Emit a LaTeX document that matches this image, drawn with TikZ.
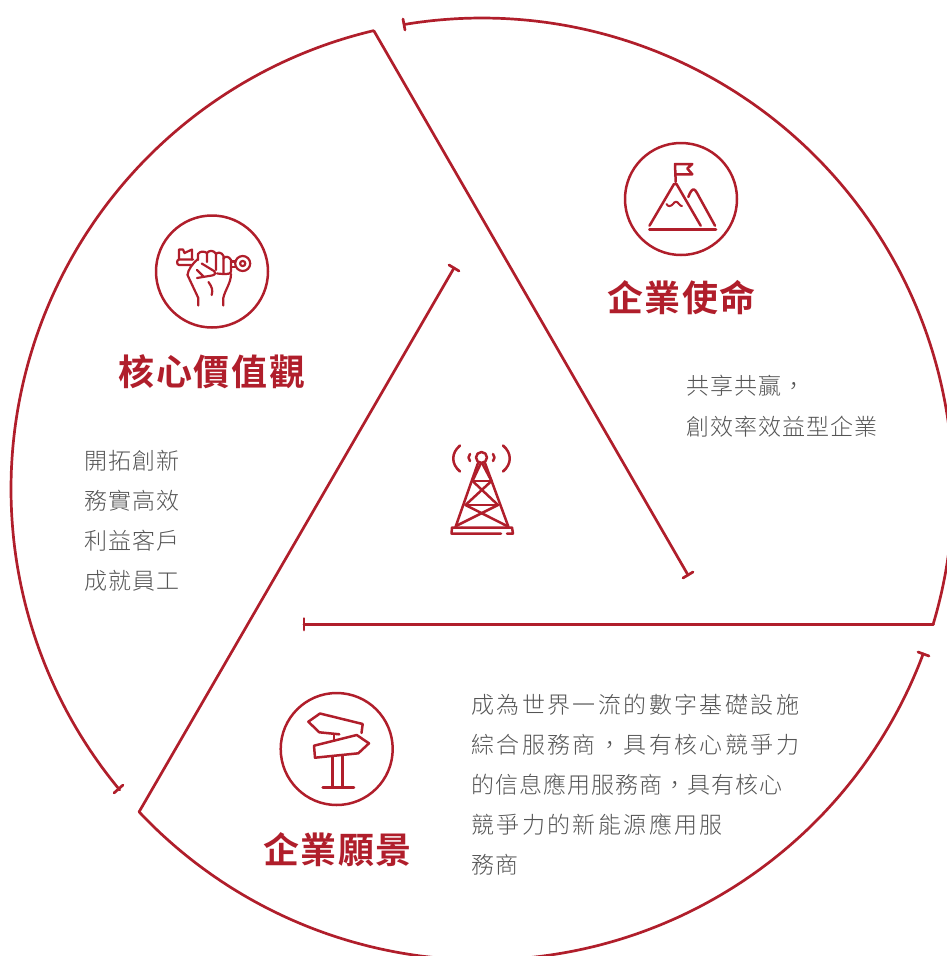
\documentclass[tikz,border=0pt]{standalone}
\usepackage{fontspec}
\newfontfamily\bodya[LetterSpace=4.5]{Noto Sans CJK TC Light}
\newfontfamily\bodyb[LetterSpace=10.5]{Noto Sans CJK TC Light}
\newfontfamily\titlef[LetterSpace=4.5]{Noto Sans CJK TC Bold}
\definecolor{brand}{HTML}{B01E2B}
\definecolor{bodygray}{HTML}{555555}
\tikzset{
  ring/.style={draw=brand,line width=2.7pt,line cap=round,line join=round},
  ico/.style={draw=brand,line width=2.5pt,line cap=round,line join=round},
  fine/.style={draw=brand,line width=2.2pt,line cap=round,line join=round},
  headline/.style={text=brand,inner sep=0pt,font=\fontsize{36}{36}\titlef},
  narrow/.style={text=bodygray,inner sep=0pt,anchor=base west,font=\fontsize{23}{23}\bodya},
  wide/.style={text=bodygray,inner sep=0pt,anchor=base west,font=\fontsize{23}{23}\bodyb},
  badge/.style={circle,draw=brand,line width=2.5pt,minimum size=112pt,inner sep=0pt}
}
\begin{document}
\begin{tikzpicture}[x=1pt,y=-1pt]
\useasboundingbox (0,0) rectangle (947,956);
\clip (0,0) rectangle (947,956);
\coordinate (c) at (482,489);
\newcommand{\ringarc}[3]{\draw[ring] plot[smooth,samples=160,domain=#1:#2,variable=\t] ({482+471*cos(\t)},{489-471*sin(\t)});}
% right sector
\ringarc{99.5}{-16.6}{}
\coordinate (r0) at (933.5,624.5);
\coordinate (r1) at (304,624.5);
\draw[ring] (r0) -- (r1);
\draw[ring] (304,618.5) -- (304,630);
\draw[ring] (403,19) -- (405,30);
% left sector
\ringarc{103.3}{219.7}{}
\coordinate (l0) at (374,31);
\coordinate (l1) at (688,575);
\draw[ring] (l0) -- (l1);
\draw[ring] (683,578) -- (693,572);
\draw[ring] (114,793) -- (123,785);
% bottom sector
\ringarc{223.3}{339.5}{}
\coordinate (b0) at (139,812);
\coordinate (b1) at (454,268);
\draw[ring] (b0) -- (b1);
\draw[ring] (449,265) -- (459,271);
\draw[ring] (918,652) -- (929,656);
% badges
\node[badge] (bm) at (681,199) {};
\node[badge] (bk) at (212,271.5) {};
\node[badge] (bv) at (336.7,749) {};
% mission icon
\draw[ico] (675.7,182) -- (675,164) -- (692.3,164) -- (687.3,168.5) -- (692.3,174.3) -- (675.5,174.3);
\draw[ico] (649.5,225.7) -- (674,184) -- (676.5,184) -- (700.7,225.7);
\draw[ico] (688.3,197) .. controls (690.5,191) and (692.5,189) .. (694,189.5) .. controls (695,190) and (696,191) .. (697,193) -- (715,225.7);
\draw[ico] (649.3,229.5) -- (716,229.5);
\draw[ico,line width=2pt] (666.5,204) .. controls (668,207) and (671,206.5) .. (673,204) .. controls (675,201) and (677,201) .. (679,204) .. controls (680,205.5) and (681,206) .. (682,206);
% key fist icon
\draw[fine] (179,259.5) -- (179,249.5) -- (183,249.5) -- (184.5,253) -- (192,249.5) -- (192,259.5);
\draw[fine] (193,259.5) -- (179,259.5) .. controls (176.5,259.5) and (176.5,265) .. (179,265) -- (192,265);
\draw[fine] (187.5,275) .. controls (188,270) and (192,264) .. (198,259);
\draw[fine] (187.5,275) -- (198.3,298) -- (198.3,305.5);
\draw[fine] (198,260) -- (198,254) .. controls (200,251) and (204,251) .. (207,253) -- (207,262);
\draw[fine] (207,253) .. controls (209,250) and (214,250) .. (216,254) -- (216,270);
\draw[fine] (216,254) .. controls (217,252) and (222,252) .. (223.5,256) -- (223.5,273);
\draw[fine] (223.5,258.5) .. controls (225,256) and (229,256) .. (231,260) -- (231,271) .. controls (231,274) and (228,274) .. (223,274) -- (217,273.5);
\draw[fine] (231,261.5) -- (235.5,261.5);
\draw[fine] (231,267) -- (235.5,267);
\draw[fine] (201.7,263.5) -- (214,271) .. controls (216,273) and (215,275) .. (212,275.5) -- (197,278);
\draw[fine] (197,270) -- (203.5,276.5);
\draw[fine] (231,274) .. controls (231,283) and (225,290) .. (223.3,298) -- (223.3,305.5);
\draw[fine] (208.5,282) .. controls (212,287) and (213,290) .. (211.7,295);
\draw[fine] (242.7,263.5) circle[radius=7.5];
\draw[fine] (242.7,263.5) circle[radius=2.6];
% tower icon
\draw[ico] (481.5,457.5) circle[radius=5.5];
\draw[ico] (478,463) -- (455.5,527);
\draw[ico] (485,463) -- (508.5,527);
\draw[ico] (472.5,481) -- (491.5,481);
\draw[ico] (465.5,505) -- (498,505);
\draw[ico] (481,463) -- (472.5,481) -- (498,505) -- (456,526);
\draw[ico] (482,463) -- (491.5,481) -- (465.5,505) -- (507,526);
\draw[ico] (462,527.5) -- (452,527.5) -- (451.5,533.5) -- (501,533.5);
\draw[ico] (462,527.5) -- (512,527.5) -- (513,533.5) -- (507,533.5);
\draw[ico] (460,445.5) .. controls (451,453) and (451,464) .. (460,471.5);
\draw[ico] (503,445.5) .. controls (512,453) and (512,464) .. (503,471.5);
\draw[ico] (470,454) .. controls (468,456) and (468,459) .. (470,461);
\draw[ico] (493,454) .. controls (495,456) and (495,459) .. (493,461);
% vision icon
\draw[ico] (361.5,733) -- (362.7,724) -- (320,713.5) -- (308.3,721.7) -- (319.3,732.3) -- (339.3,734.3);
\draw[ico] (334,735.5) -- (334,740);
\draw[ico] (314,745.7) -- (356.7,735) -- (369,743.3) -- (358.3,753.3) -- (315,757.7) -- cycle;
\draw[ico] (332.7,757) -- (332.7,787.3);
\draw[ico] (342.7,756) -- (342.7,787.3);
\draw[ico] (322.7,787.5) -- (354,787.5);
% titles
\node[headline] (tm) at (681.5,298) {企業使命};
\node[headline] (tk) at (212,372) {核心價值觀};
\node[headline] (tv) at (337.5,850) {企業願景};
% body
\node[narrow] (a1) at (686,394.5) {共享共贏，};
\node[narrow] (a2) at (686,435.5) {創效率效益型企業};
\node[narrow] (k1) at (84,469.5) {開拓創新};
\node[narrow] (k2) at (84,509.5) {務實高效};
\node[narrow] (k3) at (84,549.5) {利益客戶};
\node[narrow] (k4) at (84,589.5) {成就員工};
\node[wide] (v1) at (471,713.5) {成為世界一流的數字基礎設施};
\node[wide] (v2) at (471,753.5) {綜合服務商，具有核心競爭力};
\node[narrow] (v3) at (471,793.5) {的信息應用服務商，具有核心};
\node[wide] (v4) at (471,833.5) {競爭力的新能源應用服};
\node[narrow] (v5) at (471,873.5) {務商};
\end{tikzpicture}
\end{document}
